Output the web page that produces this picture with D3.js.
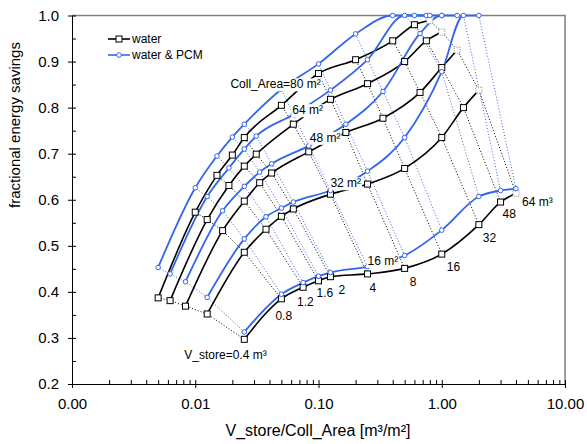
<!DOCTYPE html>
<html>
<head>
<meta charset="utf-8">
<script src="https://cdn.jsdelivr.net/npm/d3@7"></script>
<style>
  body { margin: 0; background: #fff; }
  text { font-family: "Liberation Sans", Arial, sans-serif; }
</style>
</head>
<body>
<script>
// storage volumes and collector areas; x = V_store / Coll_Area
const vStore = [0.4, 0.8, 1.2, 1.6, 2, 4, 8, 16, 32, 48, 64]
const collAreas = [16, 32, 48, 64, 80]

// fractional energy savings, water store
const water16 = [0.297, 0.385, 0.410, 0.424, 0.433, 0.439, 0.451, 0.482, 0.546, 0.595, 0.614]
const water32 = [0.352, 0.486, 0.536, 0.564, 0.580, 0.612, 0.634, 0.668, 0.735, 0.800, 0.838]
const water48 = [0.369, 0.533, 0.597, 0.637, 0.658, 0.704, 0.746, 0.777, 0.833, 0.887, 0.925]
const water64 = [0.381, 0.557, 0.631, 0.673, 0.699, 0.764, 0.818, 0.852, 0.900, 0.945, 0.964]
const water80 = [0.387, 0.573, 0.653, 0.697, 0.735, 0.805, 0.874, 0.904, 0.945, 0.980, 0.989]

// fractional energy savings, water & PCM store
const pcm16 = [0.313, 0.395, 0.420, 0.434, 0.442, 0.455, 0.479, 0.534, 0.607, 0.620, 0.624]
const pcm32 = [0.388, 0.515, 0.563, 0.582, 0.595, 0.620, 0.662, 0.735, 0.878, 1.0, 1.0]
const pcm48 = [0.422, 0.576, 0.629, 0.660, 0.678, 0.717, 0.764, 0.835, 0.961, 1.0, 1.0]
const pcm64 = [0.439, 0.607, 0.669, 0.710, 0.738, 0.785, 0.838, 0.904, 1.0, 1.0, 1.0]
const pcm80 = [0.453, 0.626, 0.695, 0.736, 0.764, 0.840, 0.895, 0.960, 1.0, 1.0, 1.0]

const xTicks = [0.001, 0.01, 0.1, 1, 10]
const yTicks = [0.2, 0.3, 0.4, 0.5, 0.6, 0.7, 0.8, 0.9, 1.0]
const vLabels = ['V_store=0.4 m³', '0.8', '1.2', '1.6', '2', '4', '8', '16', '32', '48', '64 m³']
const areaLabels = ['16 m²', '32 m²', '48 m²', '64 m²', 'Coll_Area=80 m²']

const waterSeries = [water16, water32, water48, water64, water80]
const pcmSeries = [pcm16, pcm32, pcm48, pcm64, pcm80]

const blue = '#3366ee'
const width = 587, height = 444

const svg = d3.select('body').append('svg')
  .attr('width', width)
  .attr('height', height)

const x = d3.scaleLog().domain([0.001, 10]).range([72, 565])
const y = d3.scaleLinear().domain([0.2, 1.0]).range([384, 15.5])

// build point lists
function toPoints(area, values) {
  return values.map((v, j) => ({ x: vStore[j] / area, y: v, v: vStore[j], j: j }))
}
const waterPts = collAreas.map((a, i) => toPoints(a, waterSeries[i]))
const pcmPts = collAreas.map((a, i) => toPoints(a, pcmSeries[i]))

// frame (top and right in grey)
svg.append('path')
  .attr('d', `M${x(0.001)},${y(1)}H${x(10)}V${y(0.2)}`)
  .attr('fill', 'none').attr('stroke', '#808080').attr('stroke-width', 1.5)

// minor / inner ticks
svg.append('g')
  .attr('transform', `translate(0,${y(0.2)})`)
  .call(d3.axisBottom(x).tickValues(x.ticks()).tickSize(-4).tickFormat(''))
  .call(g => g.select('.domain').remove())
svg.append('g')
  .attr('transform', `translate(${x(0.001)},0)`)
  .call(d3.axisLeft(y).tickValues(y.ticks(16)).tickSize(-4).tickFormat(''))
  .call(g => g.select('.domain').remove())

// main axes
svg.append('g')
  .attr('transform', `translate(0,${y(0.2)})`)
  .call(d3.axisBottom(x).tickValues(xTicks).tickFormat(d3.format('.2f')).tickSize(4).tickSizeOuter(0).tickPadding(10))
  .call(g => g.selectAll('text').attr('font-size', 15).attr('fill', '#000'))
svg.append('g')
  .attr('transform', `translate(${x(0.001)},0)`)
  .call(d3.axisLeft(y).tickValues(yTicks).tickFormat(d3.format('.1f')).tickSize(4).tickSizeOuter(0).tickPadding(9))
  .call(g => g.selectAll('text').attr('font-size', 15).attr('fill', '#000'))

// axis titles
svg.append('text')
  .attr('x', 318).attr('y', 436)
  .attr('text-anchor', 'middle').attr('font-size', 16)
  .text('V_store/Coll_Area [m³/m²]')
svg.append('text')
  .attr('transform', 'translate(20,125) rotate(-90)')
  .attr('text-anchor', 'middle').attr('font-size', 15)
  .text('fractional energy savings')

const line = d3.line().x(d => x(d.x)).y(d => y(d.y))
const smooth = d3.line().x(d => x(d.x)).y(d => y(d.y)).curve(d3.curveMonotoneX)

// dotted lines: same storage volume across collector areas
vStore.forEach((v, j) => {
  svg.append('path')
    .datum(waterPts.map(s => s[j]))
    .attr('d', line)
    .attr('fill', 'none').attr('stroke', '#000').attr('stroke-width', 1)
    .attr('stroke-dasharray', '1,2')
  svg.append('path')
    .datum(pcmPts.map(s => s[j]))
    .attr('d', line)
    .attr('fill', 'none').attr('stroke', blue).attr('stroke-width', 1)
    .attr('stroke-dasharray', '1,2')
})

// solid lines per collector area
waterPts.forEach(pts => {
  svg.append('path').datum(pts).attr('d', smooth)
    .attr('fill', 'none').attr('stroke', '#000').attr('stroke-width', 1.6)
})
pcmPts.forEach(pts => {
  svg.append('path').datum(pts).attr('d', smooth)
    .attr('fill', 'none').attr('stroke', blue).attr('stroke-width', 1.8)
})

// markers
waterPts.forEach(pts => {
  svg.append('g').selectAll('rect')
    .data(pts)
    .enter().append('rect')
    .attr('x', d => x(d.x) - 3)
    .attr('y', d => y(d.y) - 3)
    .attr('width', 6).attr('height', 6)
    .attr('fill', '#fff')
    .attr('stroke', d => d.j === vStore.length - 1 ? '#999' : '#000')
    .attr('stroke-dasharray', d => d.j === vStore.length - 1 ? '1,1' : null)
    .attr('stroke-width', 1)
})
pcmPts.forEach(pts => {
  svg.append('g').selectAll('circle')
    .data(pts)
    .enter().append('circle')
    .attr('cx', d => x(d.x))
    .attr('cy', d => y(d.y))
    .attr('r', 2.3)
    .attr('fill', '#fff')
    .attr('stroke', blue)
    .attr('stroke-width', 1)
})

// labels with white background
function label(px, py, txt, size) {
  const t = svg.append('text')
    .attr('x', px).attr('y', py)
    .attr('font-size', size || 12)
    .text(txt)
  const b = t.node().getBBox()
  svg.insert('rect', () => t.node())
    .attr('x', b.x - 1).attr('y', b.y + 1)
    .attr('width', b.width + 2).attr('height', b.height - 1)
    .attr('fill', '#fff')
}

// storage volume labels, placed below the 16 m² water curve
const vOffsets = [[-60, 20], [-6, 21], [-6, 19], [-2, 16], [8, 17], [2, 18], [5, 18], [5, 17], [4, 17], [2, 16], [6, 13]]
waterPts[0].forEach((d, j) => {
  label(x(d.x) + vOffsets[j][0], y(d.y) + vOffsets[j][1], vLabels[j])
})

// collector area labels, anchored to the V_store=4 m³ point of each water curve
const areaOffsets = [[0, -9], [0, -7], [1, -10], [-1, -10], [-51, -17]]
waterPts.forEach((pts, i) => {
  const d = pts[5]
  label(x(d.x) + areaOffsets[i][0], y(d.y) + areaOffsets[i][1], areaLabels[i])
})

// legend
const legend = svg.append('g')
const legendItems = [
  { name: 'water', color: '#000' },
  { name: 'water & PCM', color: blue },
]
legendItems.forEach((item, i) => {
  const ly = 39 + i * 16
  legend.append('line')
    .attr('x1', 108).attr('x2', 130).attr('y1', ly).attr('y2', ly)
    .attr('stroke', item.color).attr('stroke-width', 1.6)
  if (i === 0) {
    legend.append('rect').attr('x', 116).attr('y', ly - 3).attr('width', 6).attr('height', 6)
      .attr('fill', '#fff').attr('stroke', '#000')
  } else {
    legend.append('circle').attr('cx', 119).attr('cy', ly).attr('r', 2.3)
      .attr('fill', '#fff').attr('stroke', blue)
  }
  legend.append('text')
    .attr('x', 132).attr('y', ly + 4)
    .attr('font-size', 12)
    .text(item.name)
})
</script>
</body>
</html>
